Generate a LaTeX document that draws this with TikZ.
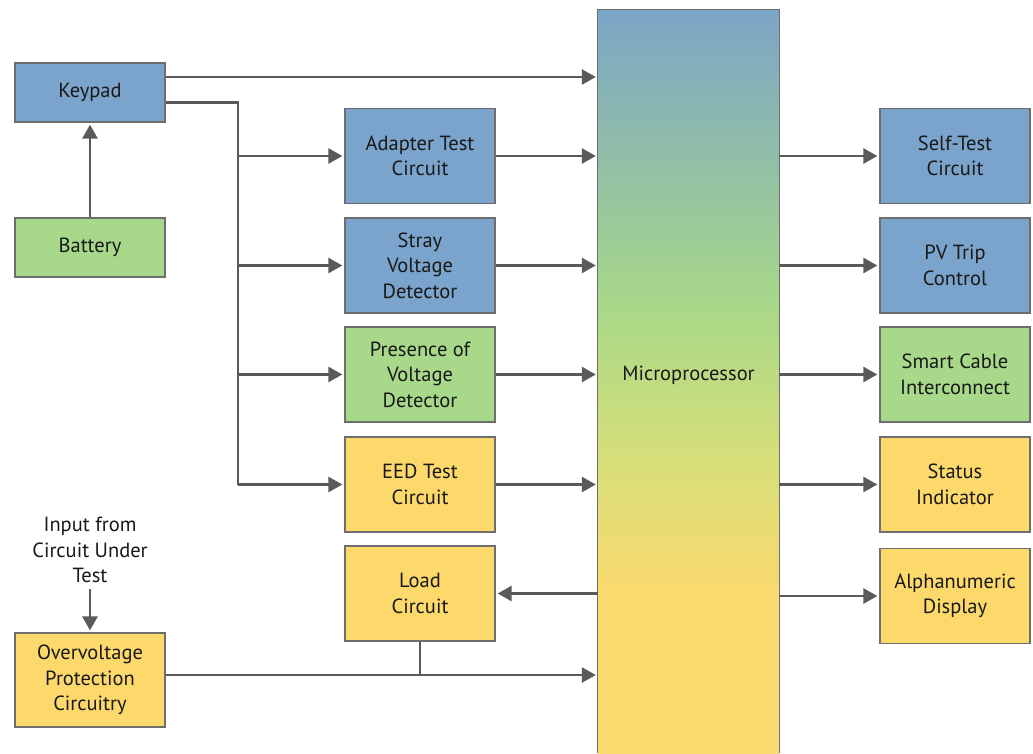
\documentclass[tikz,border=0pt]{standalone}
\usepackage{fontspec}
\setmainfont{PT Sans}
\usetikzlibrary{arrows.meta,calc}
\definecolor{bblue}{RGB}{123,164,204}
\definecolor{bgreen}{RGB}{168,216,138}
\definecolor{byellow}{RGB}{253,217,108}
\definecolor{bord}{RGB}{110,110,110}
\definecolor{arrc}{RGB}{90,90,90}
\definecolor{txtc}{RGB}{25,25,25}
\definecolor{mblu}{RGB}{123,165,198}
\definecolor{mgrn}{RGB}{168,216,136}
\definecolor{mygr}{RGB}{214,223,122}
\definecolor{myel}{RGB}{249,218,110}
\pgfdeclareverticalshading{microsh}{100bp}{color(0bp)=(myel); color(25bp)=(myel); color(36bp)=(myel); color(45bp)=(mygr); color(55bp)=(mgrn); color(75bp)=(mblu); color(100bp)=(mblu)}
\begin{document}
\begin{tikzpicture}[x=1pt,y=-1pt,
  box/.style={draw=bord, line width=1.3pt, minimum width=150pt, minimum height=95pt, align=center, inner sep=0pt, text=txtc, font=\fontsize{20.5}{25.5}\selectfont},
  bluebox/.style={box, fill=bblue},
  greenbox/.style={box, fill=bgreen},
  yellowbox/.style={box, fill=byellow},
  conn/.style={draw=arrc, line width=2.6pt},
  arr/.style={conn, -{Triangle[length=14pt,width=15pt]}, shorten >=2pt},
  lbl/.style={align=center, text=txtc, font=\fontsize{20.5}{25.5}\selectfont, inner sep=0pt}]
\useasboundingbox[fill=white] (0,0) rectangle (1033,753);
% microprocessor
\node[shading=microsh, minimum width=181pt, minimum height=743pt, inner sep=0pt] (micro) at (688.5,381.5) {};
\draw[bord, line width=1.3pt] (micro.south west) -- (micro.north west) -- (micro.north east) -- (micro.south east);
\node[lbl] (mlabel) at (688.5,375) {Microprocessor};
% left column
\node[bluebox, minimum height=59pt] (keypad) at (90,92.5) {Keypad};
\node[greenbox, minimum height=59pt] (battery) at (90,247.5) {Battery};
\node[yellowbox, minimum height=94pt] (over) at (90,680) {Overvoltage\\Protection\\Circuitry};
\node[lbl] (input) at (90,550) {Input from\\Circuit Under\\Test};
% middle column
\node[bluebox] (adapter) at (420,156) {Adapter Test\\Circuit};
\node[bluebox] (stray) at (420,265.5) {Stray\\Voltage\\Detector};
\node[greenbox] (presence) at (420,374.5) {Presence of\\Voltage\\Detector};
\node[yellowbox] (eed) at (420,484.5) {EED Test\\Circuit};
\node[yellowbox] (load) at (420,593.5) {Load\\Circuit};
% right column
\node[bluebox] (selftest) at (955,156) {Self-Test\\Circuit};
\node[bluebox] (pvtrip) at (955,265.5) {PV Trip\\Control};
\node[greenbox] (smart) at (955,374.5) {Smart Cable\\Interconnect};
\node[yellowbox] (status) at (955,484.5) {Status\\Indicator};
\node[yellowbox] (alpha) at (955,596) {Alphanumeric\\Display};
% connectors
\draw[arr] (battery.north) -- (keypad.south);
\draw[arr] ($(input.south)+(0,6)$) -- (over.north);
\draw[arr] ($(keypad.east)+(0,-15.5)$) coordinate (k1) -- (k1 -| micro.west);
\coordinate (trunk) at (238,484.5);
\draw[conn] ($(keypad.east)+(0,10)$) coordinate (k2) -| (trunk |- adapter.west);
\draw[conn] (trunk |- adapter.west) -- (trunk);
\draw[arr] (trunk |- adapter.west) -- (adapter.west);
\draw[arr] (trunk |- stray.west) -- (stray.west);
\draw[arr] (trunk |- presence.west) -- (presence.west);
\draw[arr] (trunk) -- (eed.west);
\draw[arr] (adapter.east) -- (adapter.east -| micro.west);
\draw[arr] (stray.east) -- (stray.east -| micro.west);
\draw[arr] (presence.east) -- (presence.east -| micro.west);
\draw[arr] (eed.east) -- (eed.east -| micro.west);
\draw[arr] (load.east -| micro.west) -- (load.east);
\draw[arr] ($(over.east)+(0,-5)$) coordinate (o1) -- (o1 -| micro.west);
\draw[conn] (load.south) -- (load.south |- o1);
\draw[arr] (selftest.west -| micro.east) -- (selftest.west);
\draw[arr] (pvtrip.west -| micro.east) -- (pvtrip.west);
\draw[arr] (smart.west -| micro.east) -- (smart.west);
\draw[arr] (status.west -| micro.east) -- (status.west);
\draw[arr] (alpha.west -| micro.east) -- (alpha.west);
\end{tikzpicture}
\end{document}
